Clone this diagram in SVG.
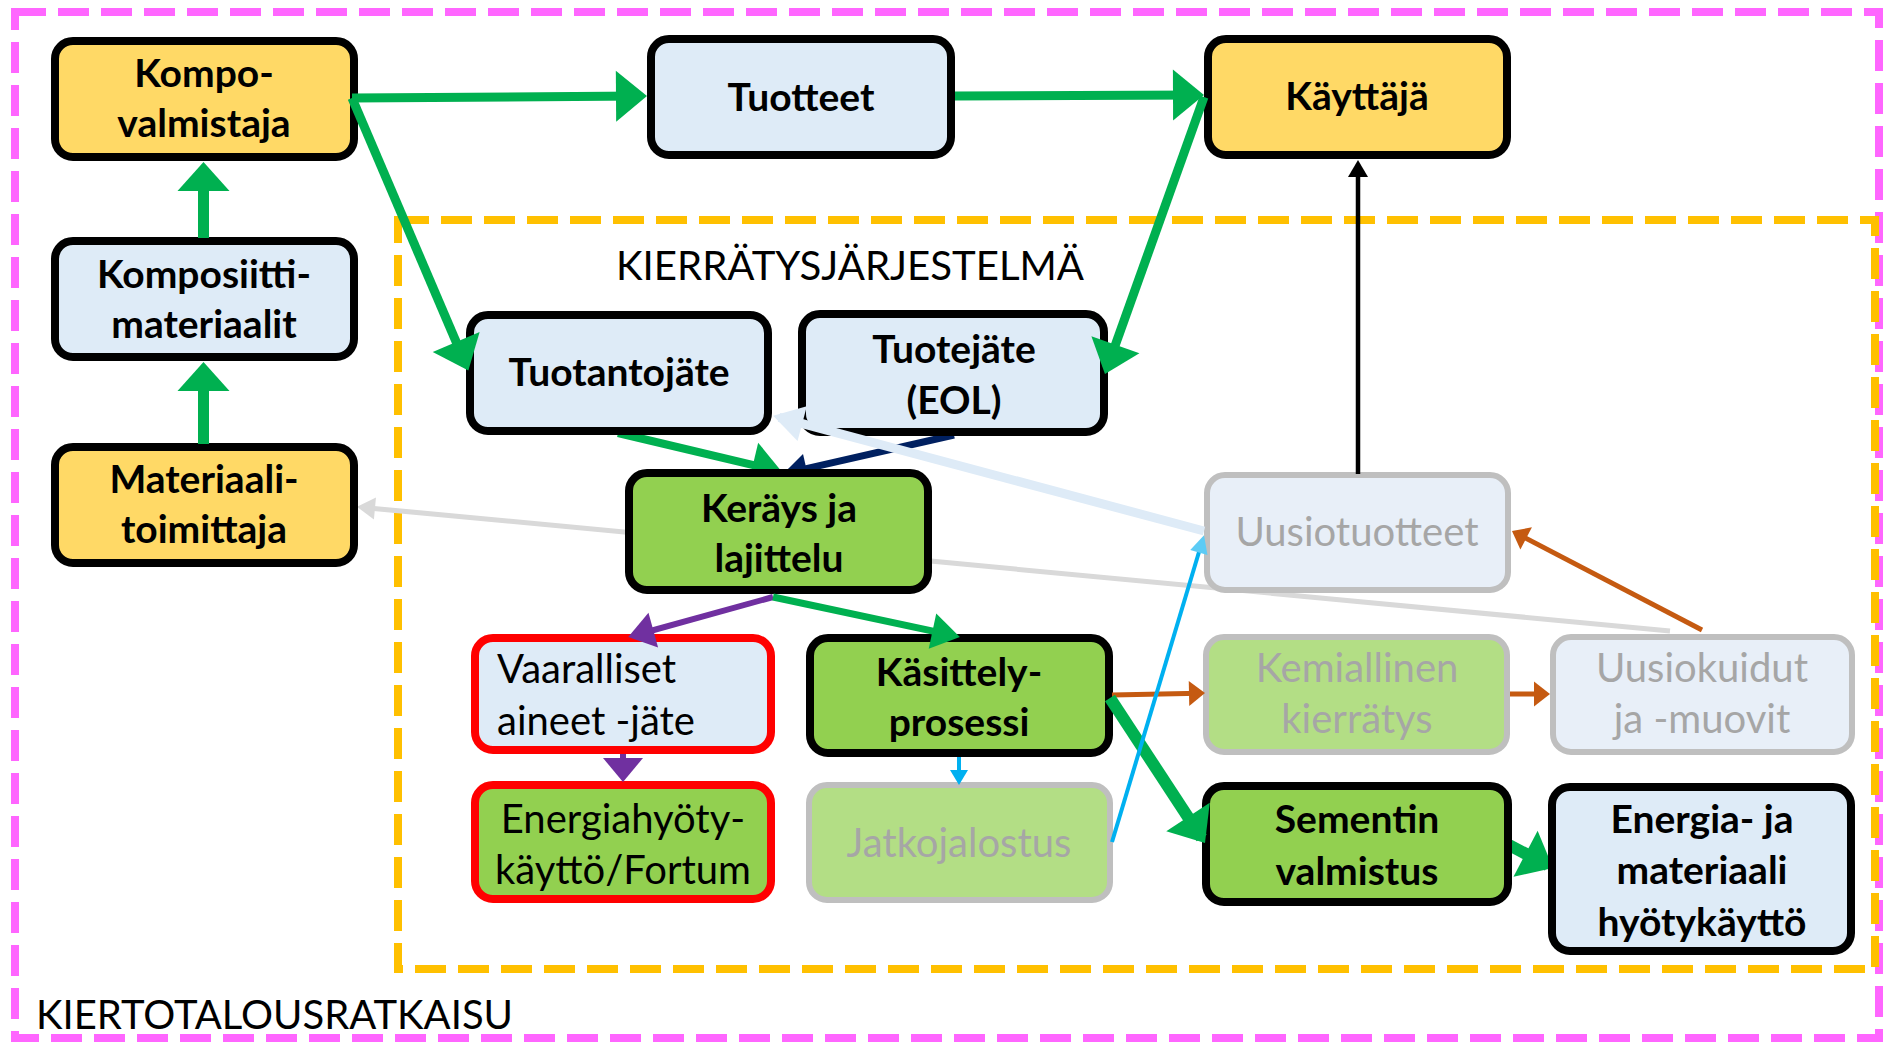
<svg xmlns="http://www.w3.org/2000/svg" width="1893" height="1045" viewBox="0 0 1893 1045">
<style>
.bx{stroke:#000;stroke-width:8}
.rd{stroke:#FF0000;stroke-width:8}
.gy{stroke:#BFBFBF;stroke-width:6}
.yel{fill:#FFD966}
.blu{fill:#DEEBF7}
.grn{fill:#92D050}
.fblu{fill:#E8EFF8}
.fgrn{fill:#B3DE85}
text{font-family:Lato,"Liberation Sans",sans-serif;text-anchor:middle}
.b{font-weight:bold;font-size:39px;fill:#000}
.n{font-size:40px;fill:#000}
.f{font-size:40px;fill:#A6A6A6}
.t{font-size:41px;fill:#000;text-anchor:start}
.c{fill:none}
</style>
<defs>
<marker id="mGL" markerUnits="userSpaceOnUse" viewBox="0 0 31 51" refX="25" refY="25.5" markerWidth="31" markerHeight="51" orient="auto" overflow="visible"><path d="M0,0 L31,25.5 L0,51 z" fill="#00B050"/></marker>
<marker id="mGV" markerUnits="userSpaceOnUse" viewBox="0 0 29 52" refX="23" refY="26" markerWidth="29" markerHeight="52" orient="auto" overflow="visible"><path d="M0,0 L29,26 L0,52 z" fill="#00B050"/></marker>
<marker id="mGX" markerUnits="userSpaceOnUse" viewBox="0 0 31 52" refX="25" refY="26" markerWidth="31" markerHeight="52" orient="auto" overflow="visible"><path d="M0,0 L31,26 L0,52 z" fill="#00B050"/></marker>
<marker id="mGM" markerUnits="userSpaceOnUse" viewBox="0 0 30 46" refX="24" refY="23" markerWidth="30" markerHeight="46" orient="auto" overflow="visible"><path d="M0,0 L30,23 L0,46 z" fill="#00B050"/></marker>
<marker id="mGS" markerUnits="userSpaceOnUse" viewBox="0 0 28 36" refX="22" refY="18" markerWidth="28" markerHeight="36" orient="auto" overflow="visible"><path d="M0,0 L28,18 L0,36 z" fill="#00B050"/></marker>
<marker id="mNv" markerUnits="userSpaceOnUse" viewBox="0 0 24 30" refX="18" refY="15" markerWidth="24" markerHeight="30" orient="auto" overflow="visible"><path d="M0,0 L24,15 L0,30 z" fill="#002060"/></marker>
<marker id="mPu" markerUnits="userSpaceOnUse" viewBox="0 0 26 36" refX="20" refY="18" markerWidth="26" markerHeight="36" orient="auto" overflow="visible"><path d="M0,0 L26,18 L0,36 z" fill="#7030A0"/></marker>
<marker id="mPw" markerUnits="userSpaceOnUse" viewBox="0 0 24 40" refX="20" refY="20" markerWidth="24" markerHeight="40" orient="auto" overflow="visible"><path d="M0,0 L24,20 L0,40 z" fill="#7030A0"/></marker>
<marker id="mBk" markerUnits="userSpaceOnUse" viewBox="0 0 17 20" refX="11" refY="10" markerWidth="17" markerHeight="20" orient="auto" overflow="visible"><path d="M0,0 L17,10 L0,20 z" fill="#000"/></marker>
<marker id="mCy" markerUnits="userSpaceOnUse" viewBox="0 0 15 18" refX="9" refY="9" markerWidth="15" markerHeight="18" orient="auto" overflow="visible"><path d="M0,0 L15,9 L0,18 z" fill="#00B0F0"/></marker>
<marker id="mCl" markerUnits="userSpaceOnUse" viewBox="0 0 18 18" refX="12" refY="9" markerWidth="18" markerHeight="18" orient="auto" overflow="visible"><path d="M0,0 L18,9 L0,18 z" fill="#5CCBF5"/></marker>
<marker id="mBr" markerUnits="userSpaceOnUse" viewBox="0 0 16 25" refX="10" refY="12.5" markerWidth="16" markerHeight="25" orient="auto" overflow="visible"><path d="M0,0 L16,12.5 L0,25 z" fill="#C55A11"/></marker>
<marker id="mGr" markerUnits="userSpaceOnUse" viewBox="0 0 18 22" refX="12" refY="11" markerWidth="18" markerHeight="22" orient="auto" overflow="visible"><path d="M0,0 L18,11 L0,22 z" fill="#D9D9D9"/></marker>
<marker id="mLb" markerUnits="userSpaceOnUse" viewBox="0 0 30 36" refX="24" refY="18" markerWidth="30" markerHeight="36" orient="auto" overflow="visible"><path d="M0,0 L30,18 L0,36 z" fill="#DEEBF7"/></marker>
</defs>
<rect width="1893" height="1045" fill="#fff"/>
<g id="frames">
<rect x="15" y="12" width="1864" height="1026" fill="none" stroke="#FF66FF" stroke-width="8" stroke-dasharray="31 12"/>
<rect x="398" y="220" width="1477" height="749" fill="none" stroke="#FFC000" stroke-width="8" stroke-dasharray="31 12"/>
<text class="t" x="36" y="1029" textLength="477" lengthAdjust="spacingAndGlyphs">KIERTOTALOUSRATKAISU</text>
<text class="t" x="616" y="280" textLength="468" lengthAdjust="spacingAndGlyphs">KIERRÄTYSJÄRJESTELMÄ</text>
</g>
<g id="connectors-under">
<path class="c" d="M1670,631 L363,507.4" stroke="#D9D9D9" stroke-width="5" marker-end="url(#mGr)"/>
<path class="c" d="M618,433 L776.2,470.6" stroke="#00B050" stroke-width="8" marker-end="url(#mGM)"/>
<path class="c" d="M954,435 L788.8,472.6" stroke="#002060" stroke-width="7" marker-end="url(#mNv)"/>
<path class="c" d="M1509,845 L1547.7,865.3" stroke="#00B050" stroke-width="12" marker-end="url(#mGX)"/>
</g>
<g id="n-kompo"><rect class="bx yel" x="55" y="41" width="299" height="116" rx="18"/><text class="b" x="204" y="87">Kompo-</text><text class="b" x="204" y="137">valmistaja</text></g>
<g id="n-tuotteet"><rect class="bx blu" x="651" y="39" width="300" height="116" rx="18"/><text class="b" x="801" y="111">Tuotteet</text></g>
<g id="n-kayttaja"><rect class="bx yel" x="1208" y="39" width="299" height="116" rx="18"/><text class="b" x="1357" y="110">Käyttäjä</text></g>
<g id="n-komposiitti"><rect class="bx blu" x="55" y="241" width="299" height="116" rx="18"/><text class="b" x="204" y="288">Komposiitti-</text><text class="b" x="204" y="338">materiaalit</text></g>
<g id="n-materiaali"><rect class="bx yel" x="55" y="447" width="299" height="116" rx="18"/><text class="b" x="204" y="493">Materiaali-</text><text class="b" x="204" y="543">toimittaja</text></g>
<g id="n-tuotantojate"><rect class="bx blu" x="470" y="315" width="298" height="116" rx="18"/><text class="b" x="619" y="386">Tuotantojäte</text></g>
<g id="n-tuotejate"><rect class="bx blu" x="802" y="314" width="302" height="118" rx="18"/><text class="b" x="954" y="363">Tuotejäte</text><text class="b" x="954" y="414">(EOL)</text></g>
<g id="n-kerays"><rect class="bx grn" x="629" y="473" width="299" height="117" rx="18"/><text class="b" x="779" y="522">Keräys ja</text><text class="b" x="779" y="572">lajittelu</text></g>
<g id="n-uusiotuotteet"><rect class="gy fblu" x="1207" y="475" width="301" height="115" rx="18"/><text class="f" x="1357" y="546">Uusiotuotteet</text></g>
<g id="n-vaaralliset"><rect class="rd blu" x="475" y="638" width="296" height="112" rx="18"/><text class="n" x="497" y="683" style="text-anchor:start">Vaaralliset</text><text class="n" x="497" y="735" style="text-anchor:start">aineet -jäte</text></g>
<g id="n-kasittely"><rect class="bx grn" x="810" y="638" width="299" height="115" rx="18"/><text class="b" x="959" y="686">Käsittely-</text><text class="b" x="959" y="736">prosessi</text></g>
<g id="n-kemiallinen"><rect class="gy fgrn" x="1206" y="637" width="301" height="115" rx="18"/><text class="f" x="1357" y="682">Kemiallinen</text><text class="f" x="1357" y="733">kierrätys</text></g>
<g id="n-uusiokuidut"><rect class="gy fblu" x="1553" y="637" width="299" height="115" rx="18"/><text class="f" x="1702" y="682">Uusiokuidut</text><text class="f" x="1702" y="733">ja -muovit</text></g>
<g id="n-energiahyoty"><rect class="rd grn" x="475" y="785" width="296" height="114" rx="18"/><text class="n" x="623" y="833">Energiahyöty-</text><text class="n" x="623" y="884">käyttö/Fortum</text></g>
<g id="n-jatkojalostus"><rect class="gy fgrn" x="809" y="785" width="301" height="115" rx="18"/><text class="f" x="959" y="857">Jatkojalostus</text></g>
<g id="n-sementin"><rect class="bx grn" x="1206" y="786" width="302" height="116" rx="18"/><text class="b" x="1357" y="833">Sementin</text><text class="b" x="1357" y="885">valmistus</text></g>
<g id="n-energia"><rect class="bx blu" x="1552" y="787" width="299" height="164" rx="18"/><text class="b" x="1702" y="833">Energia- ja</text><text class="b" x="1702" y="884">materiaali</text><text class="b" x="1702" y="936">hyötykäyttö</text></g>
<g id="connectors">
<path class="c" d="M352,98 L641,96" stroke="#00B050" stroke-width="9" marker-end="url(#mGL)"/>
<path class="c" d="M352,98 L466,365" stroke="#00B050" stroke-width="9" marker-end="url(#mGL)"/>
<path class="c" d="M955,96 L1198,95" stroke="#00B050" stroke-width="9" marker-end="url(#mGL)"/>
<path class="c" d="M1204,97 L1107,368.3" stroke="#00B050" stroke-width="9" marker-end="url(#mGL)"/>
<path class="c" d="M203.5,238 L203.5,168" stroke="#00B050" stroke-width="11" marker-end="url(#mGV)"/>
<path class="c" d="M203.5,444 L203.5,368" stroke="#00B050" stroke-width="11" marker-end="url(#mGV)"/>
<path class="c" d="M1358,474 L1358,166" stroke="#000" stroke-width="4.5" marker-end="url(#mBk)"/>
<path class="c" d="M1204,531 L779,417.4" stroke="#DEEBF7" stroke-width="9" marker-end="url(#mLb)"/>
<path class="c" d="M1702,630 L1517.3,533.8" stroke="#C55A11" stroke-width="5" marker-end="url(#mBr)"/>
<path class="c" d="M1510,694 L1544,694" stroke="#C55A11" stroke-width="5" marker-end="url(#mBr)"/>
<path class="c" d="M1112,695 L1199,693.2" stroke="#C55A11" stroke-width="5" marker-end="url(#mBr)"/>
<path class="c" d="M1110,698 L1201.7,838" stroke="#00B050" stroke-width="12" marker-end="url(#mGX)"/>
<path class="c" d="M959,757 L959,779" stroke="#00B0F0" stroke-width="4" marker-end="url(#mCy)"/>
<path class="c" d="M1112,842 L1202.3,541" stroke="#00B0F0" stroke-width="4" marker-end="url(#mCl)"/>
<path class="c" d="M773,597 L634,635.5" stroke="#7030A0" stroke-width="6" marker-end="url(#mPu)"/>
<path class="c" d="M773,597 L954,635.7" stroke="#00B050" stroke-width="7" marker-end="url(#mGS)"/>
<path class="c" d="M623,754 L623,778" stroke="#7030A0" stroke-width="6" marker-end="url(#mPw)"/>
</g>
</svg>
